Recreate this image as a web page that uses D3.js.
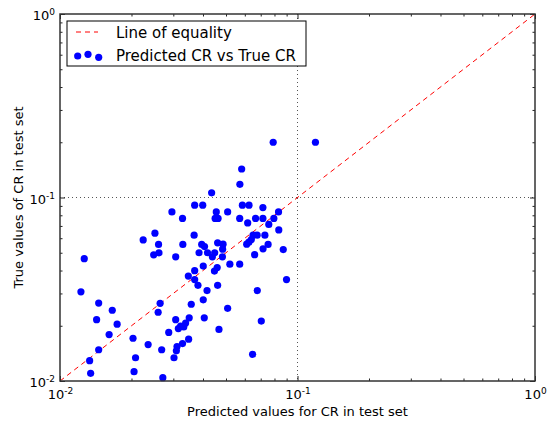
<!DOCTYPE html>
<html>
<head>
<meta charset="utf-8">
<script src="https://cdn.jsdelivr.net/npm/d3@7"></script>
<style>
  body { margin: 0; background: #fff; }
  text { font-family: "DejaVu Sans", sans-serif; fill: #000; }
</style>
</head>
<body>
<div id="chart"></div>
<script>
// predicted CR (x) and true CR (y)
var predicted = [0.079, 0.119, 0.0582, 0.0572, 0.0435, 0.0369, 0.0399, 0.0586, 0.0625, 0.0715,
  0.0296, 0.0455, 0.0508, 0.0832, 0.0328, 0.0450, 0.0463, 0.0571, 0.0666, 0.0715,
  0.0795, 0.0617, 0.0757, 0.0834, 0.0251, 0.0367, 0.0650, 0.0676, 0.0729, 0.0639,
  0.0224, 0.0260, 0.0329, 0.0395, 0.0406, 0.0461, 0.0486, 0.0611, 0.0624, 0.0752,
  0.0484, 0.0716, 0.0871, 0.0385, 0.0418, 0.0448, 0.0660, 0.0261, 0.0248, 0.0307,
  0.0438, 0.0483, 0.01265, 0.0519, 0.0571, 0.0401, 0.0459, 0.0447, 0.0369, 0.0347,
  0.0369, 0.0899, 0.0381, 0.0461, 0.01225, 0.0416, 0.0677, 0.0401, 0.01455, 0.0264,
  0.0357, 0.0508, 0.0166, 0.0259, 0.0350, 0.0405, 0.01426, 0.0307, 0.0704, 0.0315,
  0.0322, 0.0332, 0.0338, 0.0174, 0.0467, 0.0287, 0.0161, 0.0203, 0.0348, 0.0328,
  0.0311, 0.0309, 0.0235, 0.0268, 0.01455, 0.0647, 0.0208, 0.0302, 0.01333, 0.0205,
  0.01346, 0.0271];
var trueCR = [0.200, 0.200, 0.143, 0.118, 0.106, 0.0908, 0.0908, 0.0908, 0.0908, 0.0881,
  0.0834, 0.0834, 0.0834, 0.0834, 0.0769, 0.0769, 0.0769, 0.0769, 0.0769, 0.0769,
  0.0769, 0.0727, 0.0713, 0.0666, 0.0639, 0.0623, 0.0623, 0.0623, 0.0623, 0.0590,
  0.0587, 0.0555, 0.0555, 0.0555, 0.0540, 0.0566, 0.0557, 0.0557, 0.0571, 0.0555,
  0.0523, 0.0525, 0.0520, 0.0500, 0.0500, 0.0500, 0.0488, 0.0499, 0.0487, 0.0475,
  0.0475, 0.0475, 0.0464, 0.0433, 0.0433, 0.0423, 0.0415, 0.0397, 0.0399, 0.0373,
  0.0357, 0.0357, 0.0332, 0.0332, 0.0306, 0.0311, 0.0311, 0.0277, 0.0266, 0.0265,
  0.0262, 0.0249, 0.0243, 0.0237, 0.0221, 0.0221, 0.0216, 0.0216, 0.0212, 0.0193,
  0.0199, 0.0197, 0.0207, 0.0204, 0.0191, 0.0184, 0.0179, 0.0171, 0.0169, 0.0160,
  0.0154, 0.0146, 0.0158, 0.0148, 0.0148, 0.01398, 0.01339, 0.01339, 0.0129, 0.01124,
  0.01101, 0.01042];
var majorTicks = [0.01, 0.1, 1];
var tickExp = ["-2", "-1", "0"];
var minorTicks = [];
[0.01, 0.1].forEach(function(b) {
  for (var k = 2; k <= 9; k++) minorTicks.push(b * k);
});

var points = predicted.map(function(p, i) { return {x: p, y: trueCR[i]}; });

var margin = {top: 14, right: 13, bottom: 41, left: 60};
var width = 548 - margin.left - margin.right;
var height = 422 - margin.top - margin.bottom;

var svg = d3.select("#chart").append("svg")
    .attr("width", 548)
    .attr("height", 422);
var g = svg.append("g")
    .attr("transform", "translate(" + margin.left + "," + margin.top + ")");

var x = d3.scaleLog().domain([0.01, 1]).range([0, width]);
var y = d3.scaleLog().domain([0.01, 1]).range([height, 0]);

// grid at the middle decade only
g.append("line")
    .attr("x1", x(0.1)).attr("x2", x(0.1)).attr("y1", 0).attr("y2", height)
    .attr("stroke", "#555").attr("stroke-dasharray", "1,3");
g.append("line")
    .attr("x1", 0).attr("x2", width).attr("y1", y(0.1)).attr("y2", y(0.1))
    .attr("stroke", "#555").attr("stroke-dasharray", "1,3");

g.append("clipPath").attr("id", "clip")
  .append("rect").attr("width", width).attr("height", height);

g.append("line")
    .attr("clip-path", "url(#clip)")
    .attr("x1", x(0.01)).attr("y1", y(0.01))
    .attr("x2", x(1)).attr("y2", y(1))
    .attr("stroke", "#ff0000").attr("stroke-width", 1)
    .attr("stroke-dasharray", "5,4");

g.selectAll("circle.pt")
    .data(points)
    .enter()
    .append("circle")
    .attr("class", "pt")
    .attr("cx", function(d) { return x(d.x); })
    .attr("cy", function(d) { return y(d.y); })
    .attr("r", 3.6)
    .style("fill", "#0000ff");

// axes: ticks pointing inward on all four sides
function styleAxis(sel) {
  sel.select(".domain").remove();
  sel.selectAll(".tick line").attr("stroke", "#222");
}
function supLabels(sel) {
  sel.selectAll(".tick text").each(function(d, i) {
    var t = d3.select(this);
    t.text("10").style("font-size", "13px");
    t.append("tspan").attr("dy", "-0.55em").style("font-size", "9px").text(tickExp[i]);
  });
}

var bottom = g.append("g").attr("transform", "translate(0," + height + ")")
    .call(d3.axisBottom(x).tickValues(majorTicks).tickSize(-5).tickPadding(9).tickFormat(""));
supLabels(bottom);
styleAxis(bottom);
bottom.call(function(s) {
  s.append("g").call(d3.axisBottom(x).tickValues(minorTicks).tickSize(-2.5).tickFormat(""))
    .call(styleAxis);
});

var left = g.append("g")
    .call(d3.axisLeft(y).tickValues(majorTicks).tickSize(-5).tickPadding(5).tickFormat(""));
supLabels(left);
left.selectAll(".tick text").attr("dy", "0.45em");
styleAxis(left);
g.append("g").call(d3.axisLeft(y).tickValues(minorTicks).tickSize(-2.5).tickFormat("")).call(styleAxis);

var topAx = g.append("g")
    .call(d3.axisTop(x).tickValues(majorTicks).tickSize(-5).tickFormat(""));
styleAxis(topAx);
g.append("g").call(d3.axisTop(x).tickValues(minorTicks).tickSize(-2.5).tickFormat("")).call(styleAxis);

var rightAx = g.append("g").attr("transform", "translate(" + width + ",0)")
    .call(d3.axisRight(y).tickValues(majorTicks).tickSize(-5).tickFormat(""));
styleAxis(rightAx);
g.append("g").attr("transform", "translate(" + width + ",0)")
    .call(d3.axisRight(y).tickValues(minorTicks).tickSize(-2.5).tickFormat("")).call(styleAxis);

g.append("rect")
    .attr("width", width).attr("height", height)
    .attr("fill", "none").attr("stroke", "#333").attr("stroke-width", 1.5);

// axis titles
svg.append("text")
    .attr("x", margin.left + width / 2).attr("y", 416)
    .attr("text-anchor", "middle").style("font-size", "13px")
    .text("Predicted values for CR in test set");
svg.append("text")
    .attr("transform", "translate(23," + (margin.top + height / 2) + ") rotate(-90)")
    .attr("text-anchor", "middle").style("font-size", "13px")
    .text("True values of CR in test set");

// legend
var legend = svg.append("g");
legend.append("rect")
    .attr("x", 67).attr("y", 21).attr("width", 239).attr("height", 45)
    .attr("fill", "#fff").attr("stroke", "#000").attr("stroke-width", 1);
legend.append("line")
    .attr("x1", 76).attr("x2", 98).attr("y1", 32).attr("y2", 32)
    .attr("stroke", "#ff0000").attr("stroke-dasharray", "5,4");
legend.selectAll("circle")
    .data([[77.7, 56], [88, 54.3], [98.7, 57.3]])
    .enter().append("circle")
    .attr("cx", function(d) { return d[0]; })
    .attr("cy", function(d) { return d[1]; })
    .attr("r", 3.6).style("fill", "#0000ff");
legend.append("text").attr("x", 116).attr("y", 37.5).style("font-size", "15px").text("Line of equality");
legend.append("text").attr("x", 116).attr("y", 61).style("font-size", "15px").text("Predicted CR vs True CR");
</script>
</body>
</html>
